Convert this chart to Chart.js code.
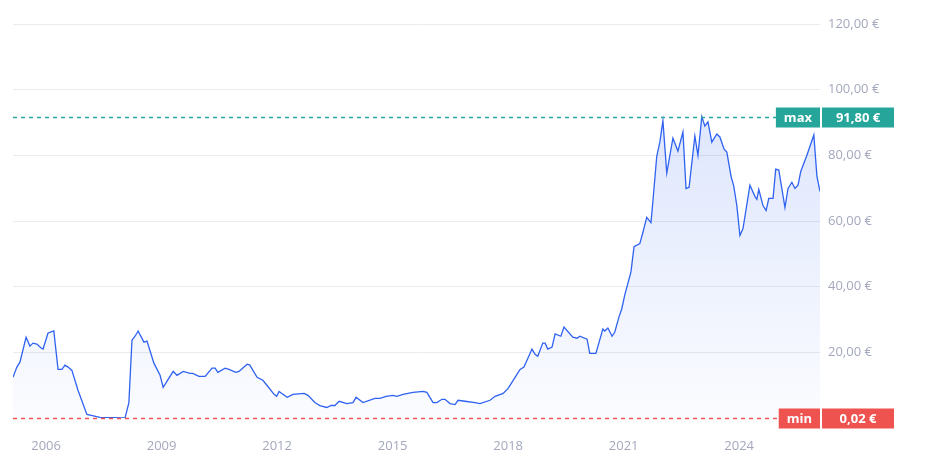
<!DOCTYPE html>
<html><head><meta charset="utf-8">
<script src="https://cdn.jsdelivr.net/npm/chart.js@4"></script>
<style>html,body{margin:0;padding:0;background:#fff}#w{width:935px;height:465px}</style>
</head><body><div id="w"><canvas id="c"></canvas></div>
<script>
const years=[2005.14,2005.24,2005.32,2005.48,2005.58,2005.66,2005.76,2005.87,2005.92,2006.05,2006.20,2006.31,2006.41,2006.49,2006.57,2006.67,2006.83,2007.06,2007.17,2007.40,2008.05,2008.15,2008.23,2008.31,2008.39,2008.54,2008.62,2008.80,2008.96,2009.04,2009.30,2009.40,2009.56,2009.74,2009.81,2009.97,2010.13,2010.31,2010.39,2010.46,2010.65,2010.75,2010.93,2011.01,2011.22,2011.29,2011.48,2011.63,2011.74,2011.92,2011.99,2012.05,2012.26,2012.41,2012.70,2012.80,2012.98,2013.11,2013.29,2013.40,2013.50,2013.61,2013.81,2013.97,2014.05,2014.23,2014.54,2014.67,2014.83,2015.01,2015.11,2015.27,2015.53,2015.79,2015.89,2016.05,2016.15,2016.28,2016.36,2016.49,2016.62,2016.70,2016.88,2017.14,2017.27,2017.53,2017.66,2017.87,2018.00,2018.18,2018.31,2018.41,2018.62,2018.70,2018.77,2018.90,2018.96,2019.03,2019.14,2019.22,2019.37,2019.45,2019.68,2019.79,2019.86,2020.05,2020.12,2020.28,2020.46,2020.51,2020.59,2020.70,2020.77,2020.88,2020.95,2021.03,2021.19,2021.27,2021.42,2021.50,2021.60,2021.71,2021.76,2021.86,2021.94,2022.02,2022.12,2022.28,2022.41,2022.54,2022.62,2022.70,2022.85,2022.93,2023.03,2023.11,2023.19,2023.29,2023.42,2023.50,2023.61,2023.68,2023.79,2023.86,2023.94,2024.02,2024.10,2024.28,2024.41,2024.46,2024.51,2024.62,2024.70,2024.77,2024.88,2024.95,2025.03,2025.19,2025.27,2025.37,2025.45,2025.53,2025.60,2025.76,2025.94,2026.02,2026.10];
const prices=[12.4,15.5,17.0,24.6,21.9,22.8,22.5,21.3,21.0,25.9,26.5,14.8,14.8,16.1,15.5,14.5,8.4,1.1,0.8,0.2,0.02,4.7,23.7,24.9,26.5,23.1,23.4,16.7,13.0,9.3,14.2,13.0,14.2,13.6,13.6,12.7,12.7,15.2,15.2,13.9,15.2,14.8,13.9,14.2,16.4,16.1,12.4,11.5,9.9,7.2,6.6,8.1,6.3,7.2,7.5,6.9,4.7,3.8,3.2,3.8,3.8,5.1,4.4,4.7,6.3,4.7,6.0,6.0,6.6,6.9,6.6,7.2,7.8,8.1,7.8,4.7,4.7,5.7,5.7,4.4,4.1,5.4,5.1,4.7,4.4,5.4,6.6,7.5,9.0,12.4,14.8,15.5,21.0,19.4,18.8,22.8,22.8,21.0,21.6,25.6,24.9,27.7,24.6,24.3,24.9,24.0,19.7,19.7,27.1,26.5,27.4,24.9,26.2,30.8,33.2,37.5,44.5,52.2,53.1,56.5,61.1,59.5,66.0,79.7,84.0,90.5,74.6,85.2,81.3,87.1,69.9,70.3,85.9,80.0,91.8,88.9,90.2,84.0,86.5,85.6,81.9,81.0,73.6,70.6,64.7,55.6,57.7,70.9,67.5,66.6,69.6,64.7,63.2,66.9,66.9,75.8,75.5,64.1,69.9,71.8,69.9,70.9,75.1,80.0,86.2,73.6,69.0];
const yearTicks=[2006,2009,2012,2015,2018,2021,2024];
const priceTicks=[20,40,60,80,100,120];
const maxVal=91.80, minVal=0.02;
const fmt=v=>v.toFixed(2).replace('.',',')+' €';

const marks={id:'marks',afterDatasetsDraw(ch){
  const {ctx,chartArea:a,scales:{y}}=ch;
  const draw=(v,col,lab)=>{
    const py=Math.round(y.getPixelForValue(v))+0.5;
    ctx.save();ctx.strokeStyle=col;ctx.lineWidth=1.5;ctx.setLineDash([4,4]);
    ctx.beginPath();ctx.moveTo(a.left,py);ctx.lineTo(a.right,py);ctx.stroke();ctx.restore();
    ctx.save();ctx.font='bold 13px "Open Sans", sans-serif';ctx.textBaseline='middle';
    const w1=ctx.measureText(lab).width+16, txt=fmt(v), w2=72;
    ctx.fillStyle=col;
    ctx.fillRect(a.right-w1,py-10,w1,20);
    ctx.fillRect(a.right+2,py-10,w2,20);
    ctx.fillStyle='#fff';ctx.textAlign='center';
    ctx.fillText(lab,a.right-w1/2,py+0.5);
    ctx.fillText(txt,a.right+2+w2/2,py+0.5);
    ctx.restore();
  };
  draw(maxVal,'#26a69a','max');draw(minVal,'#ef5350','min');
}};

new Chart(document.getElementById('c'),{
  type:'line',
  data:{datasets:[{data:years.map((x,i)=>({x,y:prices[i]})),borderColor:'#2f62f0',borderWidth:1.3,pointRadius:0,tension:0,fill:'origin',
    backgroundColor:(c)=>{const a=c.chart.chartArea;if(!a)return 'rgba(47,98,240,0.1)';const g=c.chart.ctx.createLinearGradient(0,a.top,0,a.bottom);g.addColorStop(0,'rgba(47,98,240,0.2)');g.addColorStop(1,'rgba(47,98,240,0.02)');return g;}}]},
  options:{responsive:true,maintainAspectRatio:false,animation:false,
    layout:{padding:{left:13,top:24,right:0,bottom:0}},
    plugins:{legend:{display:false},tooltip:{enabled:false}},
    scales:{
      x:{type:'linear',min:2005.14,max:2026.10,grid:{display:false},border:{display:false},
        afterBuildTicks:s=>{s.ticks=yearTicks.map(v=>({value:v}));},
        afterFit:s=>{s.height=47;},
        ticks:{color:'#a3a8bd',font:{family:'"Open Sans", sans-serif',size:13},padding:12,maxRotation:0,callback:v=>String(v)}},
      y:{position:'right',min:0,max:120,border:{display:false},
        grid:{color:'#ebebef',drawTicks:false},
        afterBuildTicks:s=>{s.ticks=priceTicks.map(v=>({value:v}));},
        afterFit:s=>{s.width=115;},
        ticks:{color:'#a3a8bd',font:{family:'"Open Sans", sans-serif',size:13},padding:8,callback:v=>fmt(v)}}
    }},
  plugins:[marks]
});
</script></body></html>
